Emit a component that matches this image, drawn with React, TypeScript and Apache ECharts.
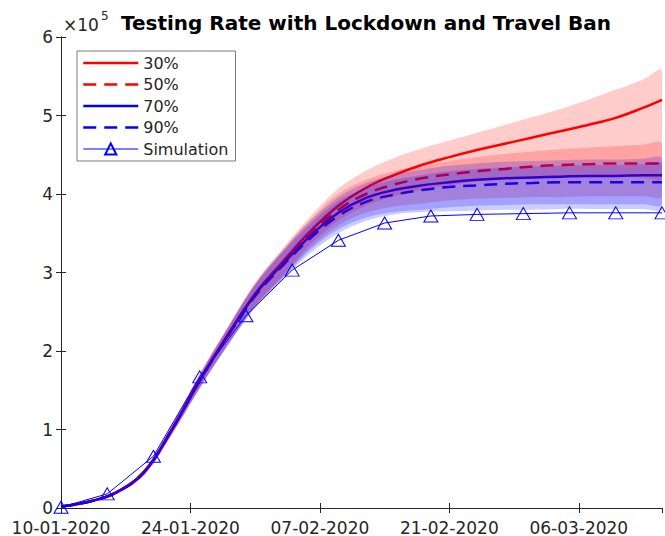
import React, { useEffect, useRef } from "react";
import * as echarts from "echarts";

// values in units of 1e5
const days = [0, 3, 6, 9, 12, 15, 18, 21, 24, 27, 30, 33, 36, 39, 42, 45, 48, 51, 54, 57, 60, 63, 65];

const rate30 = [0.02, 0.08, 0.2, 0.46, 1.0, 1.63, 2.2, 2.73, 3.14, 3.53, 3.85, 4.08, 4.24, 4.37, 4.47, 4.56, 4.64, 4.72, 4.8, 4.88, 4.97, 5.1, 5.2];
const rate50 = [0.02, 0.08, 0.2, 0.46, 1.0, 1.62, 2.19, 2.72, 3.12, 3.5, 3.8, 4.0, 4.12, 4.2, 4.25, 4.29, 4.32, 4.35, 4.37, 4.38, 4.39, 4.39, 4.39];
const rate70 = [0.02, 0.08, 0.2, 0.46, 1.0, 1.62, 2.19, 2.72, 3.11, 3.47, 3.76, 3.95, 4.05, 4.11, 4.15, 4.18, 4.2, 4.21, 4.22, 4.23, 4.23, 4.24, 4.24];
const rate90 = [0.02, 0.08, 0.2, 0.46, 1.0, 1.62, 2.18, 2.7, 3.09, 3.44, 3.72, 3.9, 3.99, 4.05, 4.09, 4.11, 4.13, 4.14, 4.15, 4.15, 4.15, 4.15, 4.15];

const upper30 = [0.02, 0.09, 0.22, 0.49, 1.05, 1.71, 2.3, 2.87, 3.31, 3.72, 4.07, 4.3, 4.46, 4.58, 4.68, 4.78, 4.88, 4.98, 5.08, 5.2, 5.33, 5.46, 5.57];
const lower30 = [0.02, 0.07, 0.18, 0.43, 0.95, 1.54, 2.08, 2.58, 2.96, 3.36, 3.66, 3.85, 3.97, 4.05, 4.11, 4.16, 4.19, 4.21, 4.22, 4.22, 4.22, 4.21, 4.2];
const upper50 = [0.02, 0.09, 0.22, 0.49, 1.05, 1.7, 2.29, 2.86, 3.29, 3.68, 4.0, 4.18, 4.29, 4.36, 4.42, 4.47, 4.51, 4.54, 4.57, 4.59, 4.61, 4.63, 4.64];
const lower50 = [0.02, 0.07, 0.18, 0.42, 0.94, 1.53, 2.07, 2.57, 2.95, 3.32, 3.6, 3.76, 3.84, 3.88, 3.92, 3.94, 3.95, 3.96, 3.96, 3.97, 3.97, 3.97, 3.97];
const upper70 = [0.02, 0.09, 0.22, 0.49, 1.05, 1.7, 2.29, 2.85, 3.28, 3.66, 3.96, 4.14, 4.25, 4.31, 4.36, 4.39, 4.41, 4.42, 4.43, 4.44, 4.44, 4.45, 4.45];
const lower70 = [0.02, 0.07, 0.18, 0.42, 0.94, 1.53, 2.07, 2.56, 2.93, 3.29, 3.55, 3.7, 3.77, 3.8, 3.83, 3.85, 3.86, 3.87, 3.87, 3.87, 3.87, 3.87, 3.87];
const upper90 = [0.02, 0.09, 0.22, 0.49, 1.04, 1.69, 2.28, 2.84, 3.26, 3.62, 3.91, 4.08, 4.18, 4.24, 4.29, 4.32, 4.34, 4.35, 4.36, 4.37, 4.37, 4.38, 4.38];
const lower90 = [0.02, 0.07, 0.18, 0.42, 0.94, 1.52, 2.06, 2.55, 2.92, 3.25, 3.5, 3.66, 3.74, 3.77, 3.78, 3.79, 3.8, 3.8, 3.81, 3.81, 3.81, 3.81, 3.81];

const simDays = [0, 5, 10, 15, 20, 25, 30, 35, 40, 45, 50, 55, 60, 65];
const simulation = [0.01, 0.18, 0.66, 1.67, 2.45, 3.03, 3.41, 3.63, 3.72, 3.74, 3.75, 3.76, 3.76, 3.76];

const legendNames = ["30%", "50%", "70%", "90%", "Simulation"];
const yTicks = [0, 1, 2, 3, 4, 5, 6];
const X_MIN = 0;
const X_MAX = 65;
const Y_MIN = 0;
const Y_MAX = 6;

const FONT = "DejaVu Sans";
const AX = "#262626";

function fmtDate(d: number): string {
  const dt = new Date(2020, 0, 10 + d);
  const dd = String(dt.getDate()).padStart(2, "0");
  const mm = String(dt.getMonth() + 1).padStart(2, "0");
  return `${dd}-${mm}-${dt.getFullYear()}`;
}

function pairs(xs: number[], ys: number[]) {
  return xs.map((x, i) => [x, ys[i]]);
}

function lineSeries(name: string, ys: number[], color: string, dashed: boolean) {
  return {
    name,
    type: "line",
    data: pairs(days, ys),
    smooth: 0.4,
    showSymbol: false,
    symbol: "none",
    lineStyle: { color, width: 2.5, type: dashed ? [13, 8] : "solid" },
    itemStyle: { color },
    silent: true,
    z: 2,
  };
}

function bandSeries(id: string, lo: number[], hi: number[], color: string) {
  return {
    name: id,
    type: "custom",
    data: days.map((d, i) => [d, lo[i], hi[i]]),
    encode: { x: 0, y: [1, 2] },
    clip: true,
    silent: true,
    z: 3,
    renderItem: (params: any, api: any) => {
      if (params.dataIndex !== 0) return null;
      const top = days.map((d, i) => api.coord([d, hi[i]]));
      const bot = days.map((d, i) => api.coord([d, lo[i]])).reverse();
      const p0 = api.coord([X_MIN, Y_MAX]);
      const p1 = api.coord([X_MAX, Y_MIN]);
      return {
        type: "polygon",
        shape: {
          points: top.concat(bot),
          smooth: 0.35,
          smoothConstraint: [p0, p1],
        },
        style: { fill: color, stroke: "none" },
      };
    },
  };
}

export default function App() {
  const ref = useRef<HTMLDivElement>(null);
  useEffect(() => {
    document.body.style.margin = "0";
    if (!ref.current) return;
    const chart = echarts.init(ref.current, undefined, { renderer: "svg" });
    const red = "#ff0000";
    const blue = "#0000ff";
    const redBand = "rgba(255,0,0,0.2)";
    const blueBand = "rgba(0,0,255,0.2)";
    const axisCommon = {
      axisLine: { show: true, lineStyle: { color: AX, width: 1 } },
      axisTick: { show: true, inside: true, length: 5, lineStyle: { color: AX } },
      splitLine: { show: false },
    };
    const hideSym = { color: "rgba(0,0,0,0)", borderWidth: 0, opacity: 0 };
    chart.setOption({
      animation: false,
      backgroundColor: "#ffffff",
      textStyle: { fontFamily: FONT },
      title: {
        text: "Testing Rate with Lockdown and Travel Ban",
        left: 361,
        textAlign: "center",
        top: 8,
        textStyle: { fontFamily: FONT, fontSize: 20, fontWeight: "bold", color: "#000" },
      },
      grid: { left: 61, right: 3, top: 37, bottom: 26, containLabel: false },
      legend: {
        data: [
          { name: legendNames[0], itemStyle: hideSym, lineStyle: { width: 2.5 } },
          { name: legendNames[1], itemStyle: hideSym, lineStyle: { width: 2.5 } },
          { name: legendNames[2], itemStyle: hideSym, lineStyle: { width: 2.5 } },
          { name: legendNames[3], itemStyle: hideSym, lineStyle: { width: 2.5 } },
          { name: legendNames[4], lineStyle: { width: 1 } },
        ],
        orient: "vertical",
        left: 77,
        top: 51,
        padding: [4, 7, 4, 5],
        itemWidth: 55,
        itemHeight: 14,
        itemGap: 5.5,
        backgroundColor: "#ffffff",
        borderColor: "#7a7a7a",
        borderWidth: 1,
        borderRadius: 0,
        selectedMode: false,
        textStyle: { fontFamily: FONT, fontSize: 16, color: AX },
      },
      xAxis: [
        {
          type: "value",
          min: X_MIN,
          max: X_MAX,
          interval: 14,
          ...axisCommon,
          axisLabel: {
            show: true,
            color: AX,
            fontSize: 17,
            fontFamily: FONT,
            margin: 11,
            showMaxLabel: false,
            formatter: (v: number) => (v % 14 === 0 ? fmtDate(v) : ""),
          },
        },
        {
          type: "value",
          position: "top",
          min: X_MIN,
          max: X_MAX,
          interval: 14,
          ...axisCommon,
          axisLabel: { show: false },
        },
      ],
      yAxis: [
        {
          type: "value",
          min: Y_MIN,
          max: Y_MAX,
          interval: 1,
          ...axisCommon,
          axisLabel: {
            show: true,
            color: AX,
            fontSize: 17,
            fontFamily: FONT,
            margin: 8,
            formatter: (v: number) => (yTicks.includes(v) ? String(v) : ""),
          },
        },
        {
          type: "value",
          position: "right",
          min: Y_MIN,
          max: Y_MAX,
          interval: 1,
          ...axisCommon,
          axisLabel: { show: false },
        },
      ],
      graphic: [
        {
          type: "text",
          left: 63,
          top: 16,
          style: { text: "×10", fontFamily: FONT, fontSize: 17, fill: AX },
        },
        {
          type: "text",
          left: 101,
          top: 10,
          style: { text: "5", fontFamily: FONT, fontSize: 12, fill: AX },
        },
      ],
      series: [
        lineSeries("30%", rate30, red, false),
        lineSeries("50%", rate50, red, true),
        lineSeries("70%", rate70, blue, false),
        lineSeries("90%", rate90, blue, true),
        bandSeries("b30", lower30, upper30, redBand),
        bandSeries("b50", lower50, upper50, redBand),
        bandSeries("b70", lower70, upper70, blueBand),
        bandSeries("b90", lower90, upper90, blueBand),
        {
          name: "Simulation",
          type: "line",
          data: pairs(simDays, simulation),
          symbol: "triangle",
          symbolSize: [14, 12],
          showSymbol: true,
          lineStyle: { color: blue, width: 1 },
          itemStyle: { color: "rgba(255,255,255,0)", borderColor: blue, borderWidth: 1 },
          silent: true,
          z: 5,
        },
      ],
    });
    return () => chart.dispose();
  }, []);
  return <div ref={ref} style={{ width: 665, height: 536 }} />;
}
